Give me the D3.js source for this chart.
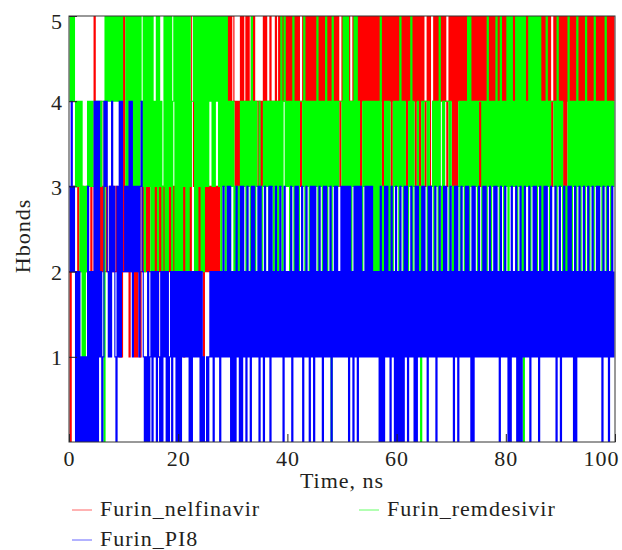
<!DOCTYPE html>
<html>
<head>
<meta charset="utf-8">
<script src="https://cdn.jsdelivr.net/npm/d3@7/dist/d3.min.js"></script>
<style>
    body { margin: 0; background: #fff; }
    svg text {
        font-family: "Liberation Serif", serif;
        font-size: 22px;
        letter-spacing: 1px;
        fill: #231f20;
    }
</style>
</head>
<body>
<div id="chart-container"></div>

<script>
    // Hbond count per frame, one digit every 0.2 ns, one string per 5 ns block
    const step = 0.2;
    const blockLength = 5;

    const nelfinavir = [
        "2022322232223222322232262", "2232423223223223223221212",
        "6232312322121231232323232", "2323231323232313232323231",
        "3232313232326632323232313", "2323232323232356565454545",
        "5434343545445454454544434", "3435454445444454454545454",
        "5454545454543454545454545", "4545454545454545454545434",
        "5454545444545454535454545", "4545454545453545454535454",
        "5454545453545454535453545", "4345453345454545454543454",
        "5353535454545454545454545", "3535454545454545454545454",
        "5454545454545454545454545", "4545454545454545434545454",
        "5453535454545454545454545", "4545454545454545454545454"
    ];

    const remdesivir = [
        "5454543434241313243434334", "3434344054545454545454545",
        "5535354535353535435253535", "2524352534235252535245252",
        "5252535252534452525352525", "3535453535453525352534243",
        "4232323424342434253424334", "3234243424342434243524534",
        "3424352434244435243424342", "4352434243524340534243444",
        "3535253424352534232434243", "4342424242523243424232434",
        "3425342423243524323423043", "4442432342434253243444424",
        "3232323424342435253424342", "4442434253424342534253424",
        "3525353435253525053435253", "5352535242425342444342534",
        "3423232534243425342434253", "4243425342434243524342434"
    ];

    const pi8 = [
        "3242320202010101030202040", "4041201434213142310314142",
        "2323242413232313421010201", "2021202102021202012021202",
        "0202121212020212121202010", "0101212021212021312131302",
        "0203120303120312031312130", "3120312130312131213120312",
        "1213021313121302131203130", "3121312031312130213131213",
        "1313130312031303131213131", "3131212120302031312031203",
        "0203020313021312030312131", "3120313121302131213131213",
        "1203130213121313120303121", "3121313121312131312031213",
        "1202031213020302131213021", "3131203121313121312130213",
        "0213121313120302131213121", "3121312131312031213021312"
    ];

    const seriesNames = ["Furin_nelfinavir", "Furin_remdesivir", "Furin_PI8"];
    const seriesColors = ["#ff0000", "#00ff00", "#0000ff"];
    const xTicks = [0, 20, 40, 60, 80, 100];
    const yTicks = [1, 2, 3, 4, 5];

    // Turn the digit blocks into {t, v} points
    function toPoints(blocks) {
        const pts = [];
        blocks.forEach((block, b) => {
            block.split('').forEach((ch, i) => {
                pts.push({ t: b * blockLength + i * step, v: +ch });
            });
        });
        return pts;
    }

    const series = [nelfinavir, remdesivir, pi8].map((blocks, i) => ({
        name: seriesNames[i],
        color: seriesColors[i],
        points: toPoints(blocks)
    }));

    const margin = { top: 16, right: 7, bottom: 108, left: 69 };
    const width = 622 - margin.left - margin.right;
    const height = 550 - margin.top - margin.bottom;

    const svg = d3.select('#chart-container')
        .append('svg')
        .attr('width', 622)
        .attr('height', 550);

    const x = d3.scaleLinear().domain([0, 100]).range([margin.left, margin.left + width]);
    const y = d3.scaleLinear().domain([0, 5]).range([margin.top + height, margin.top]);

    svg.append('clipPath')
        .attr('id', 'plot-clip')
        .append('rect')
        .attr('x', margin.left)
        .attr('y', margin.top)
        .attr('width', width)
        .attr('height', height);

    const line = d3.line()
        .x(d => x(d.t))
        .y(d => y(d.v))
        .curve(d3.curveStepAfter);

    // red first, then green, blue on top
    svg.append('g')
        .attr('clip-path', 'url(#plot-clip)')
        .selectAll('path')
        .data(series)
        .enter()
        .append('path')
        .attr('d', d => line(d.points))
        .attr('fill', 'none')
        .attr('stroke', d => d.color)
        .attr('stroke-width', 1.15);

    // x axis, ticks pointing inward
    const xAxis = svg.append('g')
        .attr('transform', `translate(0,${margin.top + height})`)
        .call(d3.axisBottom(x).tickValues(xTicks).tickFormat(d3.format('d'))
            .tickSizeInner(-8).tickSizeOuter(0).tickPadding(8));
    xAxis.attr('font-family', null).attr('font-size', null);
    xAxis.select('.domain').remove();
    xAxis.selectAll('line').attr('stroke', '#231f20');
    xAxis.selectAll('text')
        .attr('text-anchor', d => d === 100 ? 'end' : 'middle')
        .attr('dx', d => d === 100 ? '4' : '0');

    // y axis
    const yAxis = svg.append('g')
        .attr('transform', `translate(${margin.left},0)`)
        .call(d3.axisLeft(y).tickValues(yTicks).tickFormat(d3.format('d'))
            .tickSizeInner(-8).tickSizeOuter(0).tickPadding(6));
    yAxis.attr('font-family', null).attr('font-size', null);
    yAxis.select('.domain').remove();
    yAxis.selectAll('line').attr('stroke', '#231f20');
    yAxis.selectAll('text')
        .attr('dy', d => d === 5 ? '0.55em' : '0.36em');

    // frame
    svg.append('rect')
        .attr('x', margin.left)
        .attr('y', margin.top)
        .attr('width', width)
        .attr('height', height)
        .attr('fill', 'none')
        .attr('stroke', '#333')
        .attr('stroke-width', 1);

    // axis titles
    svg.append('text')
        .attr('x', margin.left + width / 2)
        .attr('y', 488)
        .attr('text-anchor', 'middle')
        .text('Time, ns');

    svg.append('text')
        .attr('transform', `translate(30,${margin.top + height / 2 + 7}) rotate(-90)`)
        .attr('text-anchor', 'middle')
        .text('Hbonds');

    // legend
    const legendPos = [
        { x: 72, y: 510 },
        { x: 359, y: 510 },
        { x: 72, y: 540 }
    ];

    const legend = svg.selectAll('.legend-item')
        .data(series)
        .enter()
        .append('g')
        .attr('class', 'legend-item')
        .attr('transform', (d, i) => `translate(${legendPos[i].x},${legendPos[i].y})`);

    legend.append('line')
        .attr('x1', 0)
        .attr('x2', 20)
        .attr('y1', 0)
        .attr('y2', 0)
        .attr('stroke', d => d.color)
        .attr('stroke-opacity', 0.6)
        .attr('stroke-width', 1);

    legend.append('text')
        .attr('x', 28)
        .attr('y', 6)
        .text(d => d.name);
</script>
</body>
</html>
